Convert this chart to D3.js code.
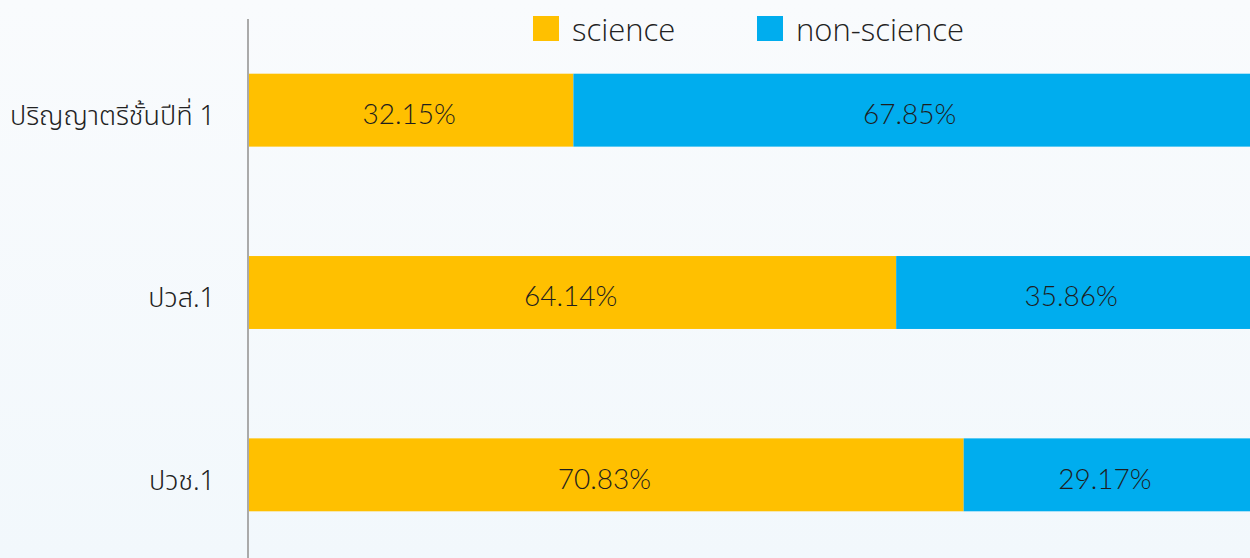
<!DOCTYPE html>
<html><head><meta charset="utf-8">
<script src="https://cdn.jsdelivr.net/npm/d3@7"></script>
<style>html,body{margin:0;padding:0;}svg{display:block;}</style>
</head><body>
<svg id="c" width="1250" height="558"></svg>
<script>
const categories = ["ปริญญาตรีชั้นปีที่ 1", "ปวส.1", "ปวช.1"];
const seriesNames = ["science", "non-science"];
const science = [32.15, 64.14, 70.83];
const nonScience = [67.85, 35.86, 29.17];
const colors = ["#FFC000", "#00ADEE"];

const svg = d3.select("#c");
const W = 1250, H = 558;
const defs = svg.append("defs");
const g = defs.append("linearGradient").attr("id","bg").attr("x1",0).attr("y1",0).attr("x2",0).attr("y2",1);
g.append("stop").attr("offset","0%").attr("stop-color","#f9fbfd");
g.append("stop").attr("offset","100%").attr("stop-color","#f2f8fc");
svg.append("rect").attr("width",W).attr("height",H).attr("fill","url(#bg)");

const x0 = 249;
const x = d3.scaleLinear().domain([0,100]).range([x0, x0 + 1009]);
const y = d3.scaleBand().domain(categories).range([19, 566]).paddingInner(0.6).paddingOuter(0.3);

const rows = categories.map((c,i)=>({cat:c, vals:[science[i], nonScience[i]]}));
const stacked = rows.map(r=>{
  let acc=0;
  return r.vals.map((v,k)=>{const s={cat:r.cat,k,v,x0:acc,x1:acc+v}; acc+=v; return s;});
}).flat();

svg.append("g").selectAll("rect").data(stacked).join("rect")
  .attr("x", d=>x(d.x0)).attr("width", d=>x(d.x1)-x(d.x0))
  .attr("y", d=>y(d.cat)).attr("height", y.bandwidth())
  .attr("fill", d=>colors[d.k]);

svg.append("g").selectAll("text").data(stacked).join("text")
  .attr("x", d=>(x(d.x0)+Math.min(x(d.x1),W))/2 - 2)
  .attr("y", d=>y(d.cat)+y.bandwidth()/2+7)
  .attr("text-anchor","middle").attr("dominant-baseline","middle")
  .attr("font-family","Lato, 'Noto Sans', sans-serif").attr("font-size",28).attr("font-weight",300)
  .attr("fill","#1e1e1e")
  .text(d=>d.v.toFixed(2)+"%");

// axis
const ax = svg.append("g").attr("transform",`translate(${x0-1},0)`)
  .call(d3.axisLeft(y).tickSize(0).tickPadding(33));
ax.select(".domain").attr("stroke","#aaa").attr("stroke-width",2).attr("d","M0,19V558");
ax.selectAll("text").attr("font-family","'Noto Sans Thai','Noto Sans','Noto Sans CJK SC',sans-serif")
  .attr("font-size",27).attr("font-weight",300).attr("fill","#222").attr("dy","0.55em");

// legend
const leg = svg.append("g");
const lx = [533, 757];
seriesNames.forEach((n,i)=>{
  leg.append("rect").attr("x",lx[i]).attr("y",16).attr("width",26).attr("height",25).attr("fill",colors[i]);
  leg.append("text").attr("x",lx[i]+39).attr("y",41)
    .attr("font-family","'Open Sans', 'Noto Sans', sans-serif").attr("font-size",31).attr("font-weight",300).attr("fill","#222")
    .text(n);
});
</script>
</body></html>
